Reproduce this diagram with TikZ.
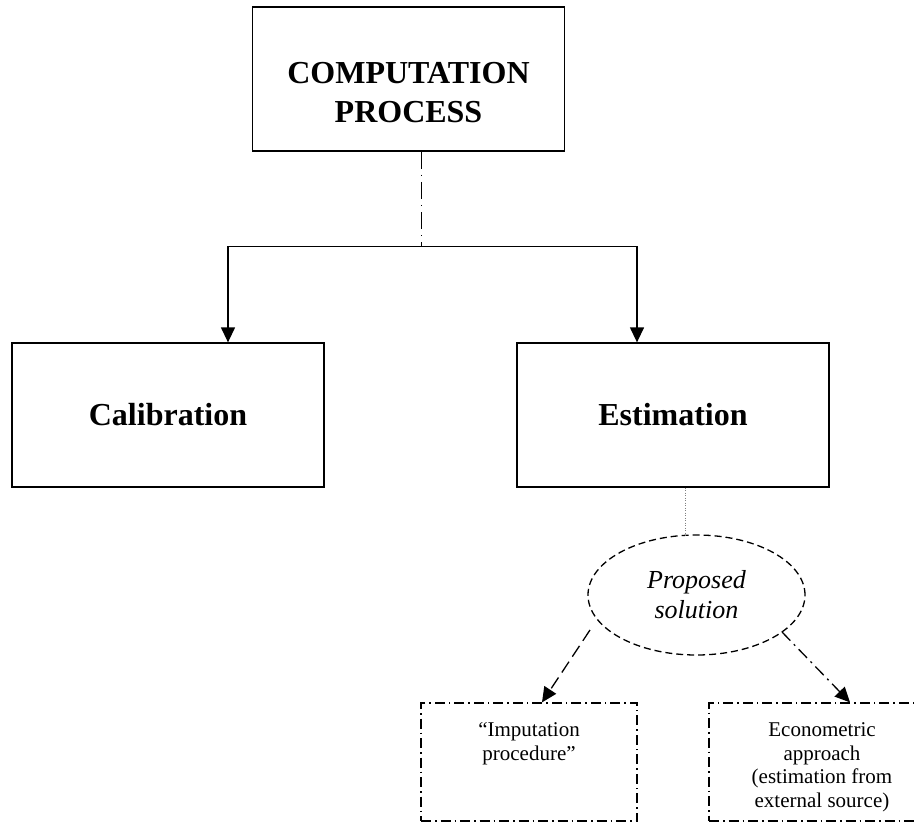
\documentclass[tikz,border=0pt]{standalone}
\usepackage{fontspec}
\setmainfont{Liberation Serif}
\usepackage{tikz}
\usetikzlibrary{arrows.meta,shapes.geometric}
\tikzset{
    mainbox/.style={draw, line width=1.3pt, inner sep=0pt, minimum width=312pt, minimum height=144pt,
        font=\fontsize{32}{39}\selectfont\bfseries},
    subbox/.style={draw, line width=1.3pt, inner sep=0pt, minimum height=118pt,
        dash pattern=on 10pt off 4pt on 1.5pt off 4pt, font=\fontsize{21}{23.5}\selectfont},
    propell/.style={draw, ellipse, line width=1.3pt, inner sep=0pt, minimum width=217pt, minimum height=120pt,
        dash pattern=on 7pt off 4pt, align=center, font=\fontsize{26}{30}\selectfont\itshape},
    flow/.style={line width=1.3pt, -{Triangle[length=15pt,width=14pt]}},
    topdash/.style={line width=1.3pt, dash pattern=on 17pt off 6pt on 1.2pt off 6pt},
    dotline/.style={line width=1pt, gray, dash pattern=on 1pt off 1.5pt},
    longdash/.style={dash pattern=on 13pt off 6pt},
    dashdotarrow/.style={dash pattern=on 12pt off 5pt on 2pt off 5pt},
}
\begin{document}
\begin{tikzpicture}[x=1pt, y=-1pt]
\useasboundingbox (0,0) rectangle (916,823);
\clip (0,0) rectangle (916,823);
\node[mainbox] (comp) at (408.5,79) {\raisebox{-16pt}[\height][\depth]{\begin{tabular}{@{}c@{}}COMPUTATION\\PROCESS\end{tabular}}};
\node[mainbox] (cal) at (168,415) {Calibration};
\node[mainbox] (est) at (673,415) {Estimation};
\node[propell] (sol) at (696.5,595) {Proposed\\solution};
\node[subbox] (imp) at (529,762) {\parbox[c][118pt][t]{216pt}{\centering\vspace*{20pt}“Imputation\\procedure”}};
\node[subbox] (econ) at (822,762) {\parbox[c][118pt][t]{226pt}{\centering\vspace*{20pt}Econometric\\approach\\(estimation from\\external source)}};
\coordinate (split) at (421.5,246.5);
\draw[topdash] (comp.south -| split) -- (split);
\draw[flow] (split) -| ([xshift=60pt]cal.north);
\draw[flow] (split) -| ([xshift=-36pt]est.north);
\draw[dotline] ([xshift=12pt]est.south) -- ++(0,48);
\draw[flow, longdash] ([shift={(-106.5,35)}]sol.center) -- ([xshift=13pt]imp.north);
\draw[flow, dashdotarrow] ([shift={(85.5,37)}]sol.center) -- ([xshift=28pt]econ.north);
\end{tikzpicture}
\end{document}
